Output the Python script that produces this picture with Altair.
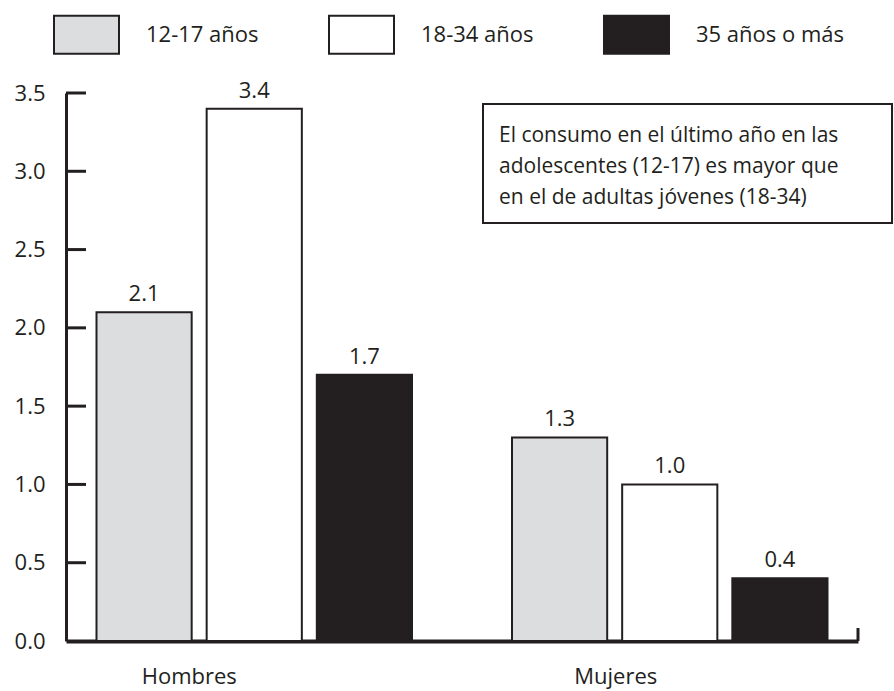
import altair as alt
import pandas as pd

categories = ["Hombres", "Mujeres"]
groups = ["12-17 años", "18-34 años", "35 años o más"]
hombres = [2.1, 3.4, 1.7]
mujeres = [1.3, 1.0, 0.4]
y_ticks = [0.0, 0.5, 1.0, 1.5, 2.0, 2.5, 3.0, 3.5]
colors = ["#dcdddf", "#ffffff", "#231f20"]
note_lines = [
    "El consumo en el último año en las",
    "adolescentes (12-17) es mayor que",
    "en el de adultas jóvenes (18-34)",
]

rows = []
for cat, vals in zip(categories, [hombres, mujeres]):
    for g, v in zip(groups, vals):
        rows.append({"sexo": cat, "grupo": g, "valor": v})
df = pd.DataFrame(rows)

FONT = "Open Sans"
INK = "#231f20"
W, H = 792, 548

x_enc = alt.X(
    "sexo:N",
    sort=categories,
    scale=alt.Scale(paddingInner=0.2407, paddingOuter=0.0734),
    axis=alt.Axis(
        title=None,
        labelAngle=0,
        labelFont=FONT,
        labelFontSize=22,
        labelColor=INK,
        labelPadding=25,
        ticks=False,
        domainColor=INK,
        domainWidth=4,
        labelOffset={"condition": {"test": "datum.value === 'Hombres'", "value": -65}, "value": -54},
    ),
)
xoff = alt.XOffset("grupo:N", sort=groups, scale=alt.Scale(paddingInner=0.136, paddingOuter=0))
y_enc = alt.Y(
    "valor:Q",
    scale=alt.Scale(domain=[0, 3.5], nice=False, zero=True),
    axis=alt.Axis(
        title=None,
        values=y_ticks,
        format=".1f",
        labelFont=FONT,
        labelFontSize=22,
        labelColor=INK,
        labelPadding=21,
        ticks=False,
        grid=False,
        domainColor=INK,
        domainWidth=3,
    ),
)

base = alt.Chart(df)

bars = base.mark_bar(stroke=INK, strokeWidth=2).encode(
    x=x_enc,
    xOffset=xoff,
    y=y_enc,
    fill=alt.Fill(
        "grupo:N",
        sort=groups,
        scale=alt.Scale(domain=groups, range=colors),
        legend=alt.Legend(
            title=None,
            orient="none",
            legendX=-13,
            legendY=-92,
            direction="horizontal",
            symbolType="M-1,-0.585H1V0.585H-1Z",
            symbolSize=4225,
            symbolStrokeColor=INK,
            symbolStrokeWidth=2,
            symbolOpacity=1,
            labelFont=FONT,
            labelFontSize=22,
            labelColor=INK,
            labelOffset=26,
            columnPadding=66,
            padding=0,
        ),
    ),
)

labels = base.mark_text(font=FONT, fontSize=22, color=INK, baseline="middle", dy=-18).encode(
    x=alt.X("sexo:N", sort=categories),
    xOffset=alt.XOffset("grupo:N", sort=groups),
    y=alt.Y("valor:Q"),
    text=alt.Text("valor:Q", format=".1f"),
)

tick_df = pd.DataFrame({"t": y_ticks[1:]})
ticks = alt.Chart(tick_df).mark_rule(color=INK, strokeWidth=3).encode(
    y=alt.Y("t:Q", scale=alt.Scale(domain=[0, 3.5], nice=False)),
    x=alt.value(0),
    x2=alt.value(20),
)

end_tick = alt.Chart(pd.DataFrame({"a": [0]})).mark_rule(color=INK, strokeWidth=3).encode(
    x=alt.value(W),
    y=alt.value(H - 13),
    y2=alt.value(H),
)

note_df = pd.DataFrame({"a": [0]})
note_box = alt.Chart(note_df).mark_rect(fill="white", stroke=INK, strokeWidth=2).encode(
    x=alt.value(417),
    x2=alt.value(826),
    y=alt.value(11),
    y2=alt.value(130),
)
note_text = alt.Chart(note_df).mark_text(
    text=note_lines,
    font=FONT,
    fontSize=21,
    color=INK,
    align="left",
    baseline="alphabetic",
    lineHeight=31,
).encode(x=alt.value(433), y=alt.value(49))

chart = (
    alt.layer(bars, labels, ticks, end_tick, note_box, note_text)
    .resolve_scale(y="shared")
    .properties(
        width=W,
        height=H,
        autosize=alt.AutoSizeParams(type="none"),
        padding={"left": 66, "top": 93, "right": 36, "bottom": 50},
        background="white",
    )
    .configure_view(strokeWidth=0)
)

chart.save("out.html", embed_options={"renderer": "svg", "actions": False})
